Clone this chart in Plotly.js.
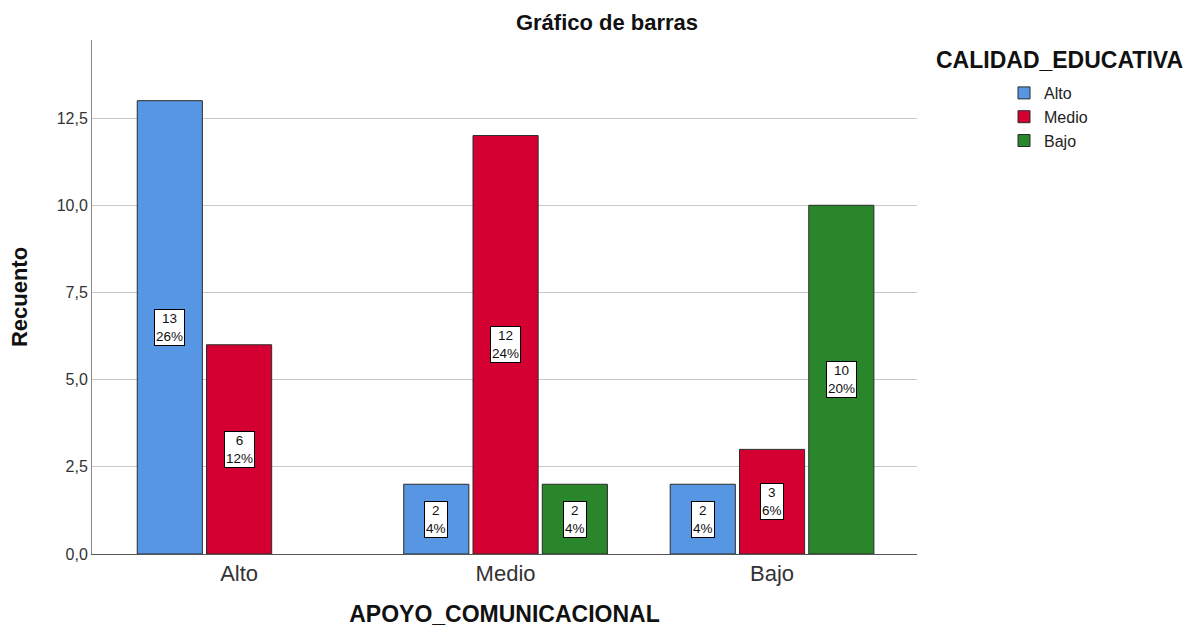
<!DOCTYPE html>
<html>
<head>
<meta charset="utf-8">
<script src="https://cdn.plot.ly/plotly-3.0.1.min.js"></script>
<style>html,body{margin:0;padding:0;background:#fff;}#chart{width:1189px;height:628px;}</style>
</head>
<body>
<div id="chart"></div>
<script>
const categories = ["Alto", "Medio", "Bajo"];
const seriesNames = ["Alto", "Medio", "Bajo"];
const valuesAlto = [13, 2, 2];
const valuesMedio = [6, 12, 3];
const valuesBajo = [null, 2, 10];
const percentAlto = ["26%", "4%", "4%"];
const percentMedio = ["12%", "24%", "6%"];
const percentBajo = [null, "4%", "20%"];
const colors = ["#5796e2", "#d50032", "#2a862a"];

const series = [valuesAlto, valuesMedio, valuesBajo];
const percents = [percentAlto, percentMedio, percentBajo];

const bargap = 0.22, bargroupgap = 0.06;
const slot = (1 - bargap) / series.length;
const FONT = "Liberation Sans, Arial, sans-serif";

const traces = series.map((vals, i) => ({
  type: "bar",
  name: seriesNames[i],
  x: categories,
  y: vals,
  marker: {color: colors[i], line: {color: "#2b2b2b", width: 1}},
  hoverinfo: "skip"
}));

const annotations = [];
series.forEach((vals, i) => {
  vals.forEach((v, j) => {
    if (v === null) return;
    annotations.push({
      x: j + (i - (series.length - 1) / 2) * slot,
      y: v / 2,
      xref: "x", yref: "y",
      text: v + "<br>" + percents[i][j],
      showarrow: false,
      bgcolor: "#ffffff",
      bordercolor: "#000000",
      borderwidth: 1,
      borderpad: 1,
      font: {family: FONT, size: 13.5, color: "#111"}
    });
  });
});

annotations.push({
  text: "<b>CALIDAD_EDUCATIVA</b>",
  xref: "paper", yref: "paper",
  x: (1059 - 92) / 825, y: (554 - 60) / 514,
  xanchor: "center", yanchor: "middle",
  showarrow: false,
  font: {family: FONT, size: 23, color: "#111"}
});

const layout = {
  width: 1189, height: 628,
  margin: {l: 92, r: 272, t: 40, b: 74},
  paper_bgcolor: "#fff", plot_bgcolor: "#fff",
  separators: ",.",
  barmode: "group",
  bargap: bargap,
  bargroupgap: bargroupgap,
  font: {family: FONT, color: "#222"},
  title: {
    text: "<b>Gráfico de barras</b>",
    xref: "container", x: 607 / 1189, xanchor: "center",
    yref: "container", y: 1 - 22 / 628, yanchor: "middle",
    font: {size: 22, color: "#111"}
  },
  xaxis: {
    type: "category",
    range: [-0.552, 2.544],
    showline: true, linecolor: "#555", linewidth: 1,
    showgrid: false, ticks: "",
    tickfont: {size: 22, color: "#333"},
    title: {text: "<b>APOYO_COMUNICACIONAL</b>", font: {size: 23, color: "#111"}, standoff: 20}
  },
  yaxis: {
    range: [0, 14.74],
    dtick: 2.5, tick0: 0,
    tickformat: ".1f",
    showline: true, linecolor: "#888", linewidth: 1,
    showgrid: true, gridcolor: "#c8c8c8", gridwidth: 1,
    zeroline: false,
    ticks: "", ticklen: 0,
    tickfont: {size: 16, color: "#333"},
    title: {text: "<b>Recuento</b>", font: {size: 22, color: "#111"}, standoff: 22}
  },
  showlegend: true,
  legend: {
    x: (1004 - 92) / 825, xanchor: "left",
    y: (554 - 76) / 514, yanchor: "top",
    font: {size: 16, color: "#222"},
    itemwidth: 30,
    tracegroupgap: 0,
    traceorder: "normal"
  },
  annotations: annotations
};

Plotly.newPlot("chart", traces, layout, {displayModeBar: false, staticPlot: true});
</script>
</body>
</html>
